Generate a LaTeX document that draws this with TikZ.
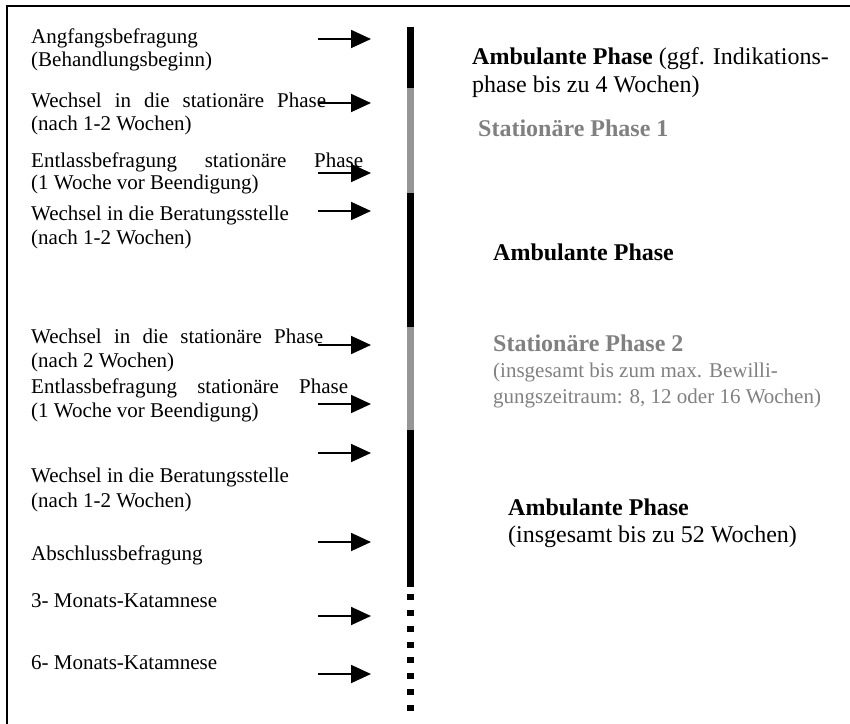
\documentclass[tikz,border=0pt]{standalone}
\usepackage{fontspec}
\setmainfont{Liberation Serif}
\usetikzlibrary{arrows.meta}
\definecolor{phasegray}{RGB}{128,128,128}
\definecolor{bargray}{RGB}{150,150,150}

\begin{document}
\begin{tikzpicture}[x=1pt,y=-1pt,
  lbl/.style={anchor=base west,inner sep=0pt,font=\fontsize{21}{23.5}\selectfont},
  ttl/.style={anchor=base west,inner sep=0pt,font=\fontsize{24}{27}\selectfont},
  note/.style={anchor=base west,inner sep=0pt,font=\fontsize{21}{23.5}\selectfont},
  pointer/.style={line width=1.8pt,-{Triangle[length=20pt,width=18pt]}},
  frameline/.style={line width=2pt,line cap=rect}
]
\useasboundingbox (0,0) rectangle (850,723);

% outer frame (top and left edges)
\draw[frameline] (7,723) -- (7,6) -- (850,6);

% time bar: ambulant (black) and stationary (gray) segments
\fill[black]   (407,27)  rectangle (414,88);
\fill[bargray] (407,88)  rectangle (414,193);
\fill[black]   (407,193) rectangle (414,327);
\fill[bargray] (407,327) rectangle (414,430);
\fill[black]   (407,430) rectangle (414,587);
% follow-up period as dotted continuation
\foreach \k in {0,...,7}
  \fill[black] (407,{594+15.85*\k}) rectangle (414,{600+15.85*\k});

% survey points on the left
\node[lbl] (t1a) at (31,43.5)  {Angfangsbefragung};
\node[lbl] (t1b) at (31,66.5)  {(Behandlungsbeginn)};
\node[lbl] (t2a) at (31,107.5) {\makebox[295pt][s]{Wechsel in die stationäre Phase}};
\node[lbl] (t2b) at (31,130.5) {(nach 1-2 Wochen)};
\node[lbl] (t3a) at (31,167.5) {\makebox[332pt][s]{Entlassbefragung stationäre Phase}};
\node[lbl] (t3b) at (31,189.5) {(1 Woche vor Beendigung)};
\node[lbl] (t4a) at (31,220.5) {Wechsel in die Beratungsstelle};
\node[lbl] (t4b) at (31,244.5) {(nach 1-2 Wochen)};
\node[lbl] (t5a) at (31,343.5) {\makebox[292pt][s]{Wechsel in die stationäre Phase}};
\node[lbl] (t5b) at (31,367.5) {(nach 2 Wochen)};
\node[lbl] (t6a) at (31,393.5) {\makebox[317pt][s]{Entlassbefragung stationäre Phase}};
\node[lbl] (t6b) at (31,417.5) {(1 Woche vor Beendigung)};
\node[lbl] (t7a) at (31,482.5) {Wechsel in die Beratungsstelle};
\node[lbl] (t7b) at (31,507.5) {(nach 1-2 Wochen)};
\node[lbl] (t8)  at (31,560.5) {Abschlussbefragung};
\node[lbl] (t9)  at (31,607.5) {3- Monats-Katamnese};
\node[lbl] (t10) at (31,669.5) {6- Monats-Katamnese};

% arrows pointing at the time bar
\foreach \i/\y in {1/39,2/103,3/173,4/211,5/345,6/404,7/453,8/542,9/616,10/674} {
  \coordinate (s\i) at (318,\y);
  \coordinate (e\i) at (371,\y);
  \draw[pointer] (s\i) -- (e\i);
}

% treatment phases on the right
\node[ttl] (p1a) at (472,64) {\textbf{Ambulante Phase} (ggf. Indikations-};
\node[ttl] (p1b) at (472,92) {phase bis zu 4 Wochen)};
\node[ttl,text=phasegray] (p2) at (478,136.5) {\textbf{Stationäre Phase 1}};
\node[ttl] (p3) at (493,260) {\textbf{Ambulante Phase}};
\node[ttl,text=phasegray] (p4a) at (493,351) {\textbf{Stationäre Phase 2}};
\node[note,text=phasegray] (p4b) at (493,377.5) {(insgesamt bis zum max. Bewilli-};
\node[note,text=phasegray] (p4c) at (493,403.5) {gungszeitraum: 8, 12 oder 16 Wochen)};
\node[ttl] (p5a) at (508,515) {\textbf{Ambulante Phase}};
\node[ttl] (p5b) at (508,542) {(insgesamt bis zu 52 Wochen)};
\end{tikzpicture}
\end{document}
